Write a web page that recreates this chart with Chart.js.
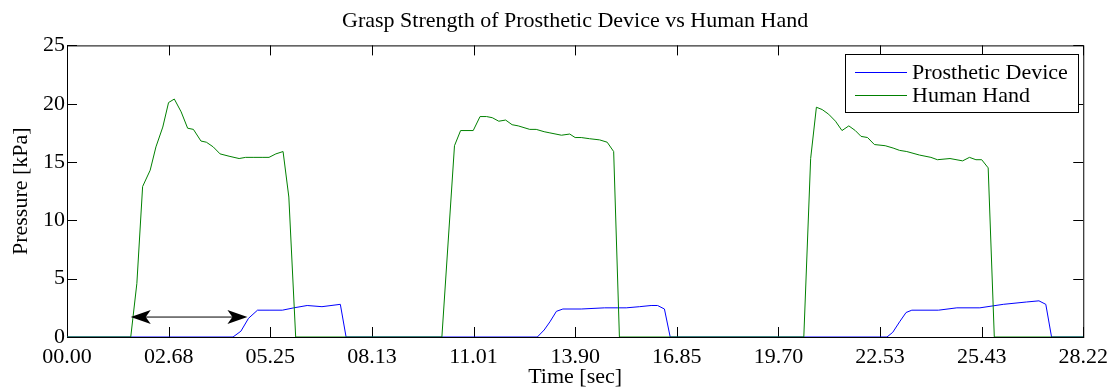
<!DOCTYPE html>
<html>
<head>
<meta charset="utf-8">
<script src="https://cdn.jsdelivr.net/npm/chart.js@4/dist/chart.umd.min.js"></script>
<style>
  html, body { margin: 0; padding: 0; background: #fff; }
  #wrap { width: 1115px; height: 392px; }
</style>
</head>
<body>
<div id="wrap"><canvas id="myChart"></canvas></div>
<script>
// Data (time in seconds, pressure in kPa)
const deviceTime = [0, 4.61, 4.83, 5.04, 5.29, 5.61, 5.98, 6.30, 6.67, 7.08, 7.59, 7.75,
  13.06, 13.25, 13.41, 13.59, 13.77, 14.28, 14.93, 15.53, 15.90, 16.22, 16.40, 16.59, 16.75,
  22.77, 22.93, 23.12, 23.30, 23.46, 24.20, 24.71, 25.35, 26.00, 26.64, 26.99, 27.18, 27.34, 28.22];
const devicePressure = [0, 0, 0.5, 1.6, 2.3, 2.3, 2.3, 2.5, 2.7, 2.6, 2.8, 0,
  0, 0.6, 1.3, 2.2, 2.4, 2.4, 2.5, 2.5, 2.6, 2.7, 2.7, 2.4, 0,
  0, 0.4, 1.3, 2.1, 2.3, 2.3, 2.5, 2.5, 2.8, 3.0, 3.1, 2.8, 0, 0];

const handTime = [0, 1.77, 1.94, 2.10, 2.31, 2.47, 2.66, 2.82, 2.98, 3.17, 3.35, 3.51, 3.72, 3.87,
  4.06, 4.25, 4.50, 4.78, 4.96, 5.19, 5.44, 5.61, 5.80, 6.00, 6.16, 6.35,
  10.41, 10.76, 10.93, 11.28, 11.47, 11.65, 11.81, 11.99, 12.18, 12.36, 12.53, 12.85, 13.03,
  13.25, 13.41, 13.73, 13.96, 14.11, 14.28, 14.51, 14.79, 15.00, 15.18, 15.34,
  20.46, 20.65, 20.81, 20.97, 21.15, 21.34, 21.52, 21.71, 21.89, 22.05, 22.23, 22.42, 22.72,
  22.94, 23.12, 23.32, 23.67, 23.99, 24.17, 24.52, 24.87, 25.06, 25.24, 25.40, 25.58, 25.75, 28.22];
const handPressure = [0, 0, 4.6, 12.9, 14.3, 16.3, 18.0, 20.1, 20.4, 19.3, 17.9, 17.8, 16.8, 16.7,
  16.3, 15.7, 15.5, 15.3, 15.4, 15.4, 15.4, 15.4, 15.7, 15.9, 12.0, 0,
  0, 16.4, 17.7, 17.7, 18.9, 18.9, 18.8, 18.5, 18.6, 18.2, 18.1, 17.8, 17.8,
  17.6, 17.5, 17.3, 17.4, 17.1, 17.1, 17.0, 16.9, 16.7, 15.9, 0,
  0, 15.3, 19.7, 19.5, 19.1, 18.5, 17.7, 18.1, 17.7, 17.2, 17.1, 16.5, 16.4,
  16.2, 16.0, 15.9, 15.6, 15.4, 15.2, 15.3, 15.1, 15.4, 15.2, 15.2, 14.5, 0, 0];

const xTickLabels = ["00.00", "02.68", "05.25", "08.13", "11.01", "13.90", "16.85", "19.70", "22.53", "25.43", "28.22"];
const timeMax = 28.22;

// Pfeil zwischen Greifbeginn Hand und Prothese
const arrowTime = [1.77, 5.01];
const arrowPressure = 1.71;

const FONT = "'Liberation Serif', 'Times New Roman', serif";

function toPoints(xs, ys) {
    return xs.map((x, i) => ({ x: x, y: ys[i] }));
}

// Rahmen mit Ticks nach innen (wie MATLAB)
const boxPlugin = {
    id: 'boxPlugin',
    beforeDatasetsDraw(chart) {
        const { ctx, chartArea: a, scales } = chart;
        ctx.save();
        ctx.strokeStyle = '#000';
        ctx.lineWidth = 1;
        ctx.strokeRect(a.left + 0.5, a.top + 0.5, a.right - a.left, a.bottom - a.top);
        ctx.beginPath();
        scales.x.ticks.forEach(t => {
            const px = Math.round(scales.x.getPixelForValue(t.value)) + 0.5;
            ctx.moveTo(px, a.bottom); ctx.lineTo(px, a.bottom - 10);
            ctx.moveTo(px, a.top); ctx.lineTo(px, a.top + 10);
        });
        scales.y.ticks.forEach(t => {
            const py = Math.round(scales.y.getPixelForValue(t.value)) + 0.5;
            ctx.moveTo(a.left, py); ctx.lineTo(a.left + 10, py);
            ctx.moveTo(a.right, py); ctx.lineTo(a.right - 10, py);
        });
        ctx.stroke();
        ctx.restore();
    },
    afterDatasetsDraw(chart) {
        const { ctx, scales } = chart;
        // arrow
        const x1 = scales.x.getPixelForValue(arrowTime[0]);
        const x2 = scales.x.getPixelForValue(arrowTime[1]);
        const y = scales.y.getPixelForValue(arrowPressure);
        ctx.save();
        ctx.strokeStyle = '#000';
        ctx.fillStyle = '#000';
        ctx.lineWidth = 1;
        ctx.beginPath();
        ctx.moveTo(x1 + 10, y); ctx.lineTo(x2 - 10, y);
        ctx.stroke();
        const head = (tip, dir) => {
            ctx.beginPath();
            ctx.moveTo(tip, y);
            ctx.lineTo(tip + dir * 20, y - 7);
            ctx.lineTo(tip + dir * 15, y);
            ctx.lineTo(tip + dir * 20, y + 7);
            ctx.closePath();
            ctx.fill();
        };
        head(x1, 1);
        head(x2, -1);

        // legend box
        const lx = 845, ly = 54, lw = 233, lh = 58;
        ctx.fillStyle = '#fff';
        ctx.fillRect(lx, ly, lw, lh);
        ctx.strokeRect(lx + 0.5, ly + 0.5, lw, lh);
        ctx.font = '22px ' + FONT;
        ctx.textBaseline = 'middle';
        chart.data.datasets.forEach((ds, i) => {
            const ry = ly + 18 + i * 23;
            ctx.strokeStyle = ds.borderColor;
            ctx.beginPath();
            ctx.moveTo(lx + 10, ry + 0.5); ctx.lineTo(lx + 62, ry + 0.5);
            ctx.stroke();
            ctx.fillStyle = '#000';
            ctx.fillText(ds.label, lx + 67, ry + 1);
        });
        ctx.restore();
    }
};

const ctx = document.getElementById('myChart').getContext('2d');
const myChart = new Chart(ctx, {
    type: 'line',
    data: {
        datasets: [
            {
                label: 'Prosthetic Device',
                data: toPoints(deviceTime, devicePressure),
                borderColor: '#0000ff',
                borderWidth: 1,
                pointRadius: 0,
                tension: 0,
                order: 1
            },
            {
                label: 'Human Hand',
                data: toPoints(handTime, handPressure),
                borderColor: '#008000',
                borderWidth: 1,
                pointRadius: 0,
                tension: 0,
                order: 0
            }
        ]
    },
    options: {
        responsive: true,
        maintainAspectRatio: false,
        animation: false,
        layout: { padding: { top: 0, right: 28, left: 0, bottom: 0 } },
        plugins: {
            legend: { display: false },
            tooltip: { enabled: false },
            title: {
                display: true,
                fullSize: false,
                text: 'Grasp Strength of Prosthetic Device vs Human Hand',
                color: '#000',
                font: { family: FONT, size: 22, weight: 'normal' },
                padding: { top: 8, bottom: 11 }
            }
        },
        scales: {
            x: {
                type: 'linear',
                min: 0,
                max: timeMax,
                grid: { display: false, drawTicks: false },
                border: { display: false },
                afterBuildTicks: scale => {
                    scale.ticks = xTickLabels.map((_, i) => ({ value: i * timeMax / (xTickLabels.length - 1) }));
                },
                afterFit: scale => { scale.height = 55; },
                ticks: {
                    color: '#000',
                    padding: 7,
                    maxRotation: 0,
                    autoSkip: false,
                    font: { family: FONT, size: 22 },
                    callback: (v, i) => xTickLabels[i]
                },
                title: {
                    display: true,
                    text: 'Time [sec]',
                    color: '#000',
                    font: { family: FONT, size: 22 },
                    padding: { top: 0, bottom: 2 }
                }
            },
            y: {
                min: 0,
                max: 25,
                grid: { display: false, drawTicks: false },
                border: { display: false },
                afterFit: scale => { scale.width = 67; },
                ticks: {
                    stepSize: 5,
                    color: '#000',
                    padding: 2,
                    font: { family: FONT, size: 22 }
                },
                title: {
                    display: true,
                    text: 'Pressure [kPa]',
                    color: '#000',
                    font: { family: FONT, size: 22 },
                    padding: { top: 8, bottom: 0 }
                }
            }
        }
    },
    plugins: [boxPlugin]
});
</script>
</body>
</html>
